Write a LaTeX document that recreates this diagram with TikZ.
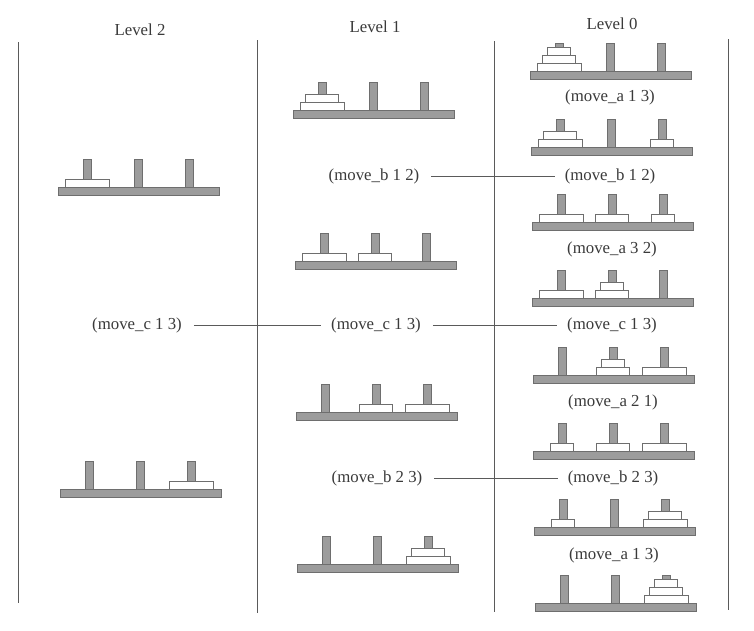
\documentclass[tikz,border=0pt]{standalone}
\usepackage{fontspec}
\setmainfont{Liberation Serif}
\definecolor{txt}{HTML}{3A3A3A}
\definecolor{pegfill}{HTML}{9C9C9C}
\definecolor{pegline}{HTML}{6E6E6E}
\definecolor{rule}{HTML}{5A5A5A}
\tikzset{
  lbl/.style={inner sep=0pt, text=txt, font=\fontsize{16.8}{20}\selectfont},
  link/.style={draw=rule, line width=0.7pt, shorten <=12pt, shorten >=10pt},
  divider/.style={draw=rule, line width=0.8pt},
  woodpart/.style={fill=pegfill, draw=pegline, line width=0.5pt},
  diskpart/.style={fill=white, draw=pegline, line width=0.6pt}
}
\newcommand\hanoitower[3]{%
  \begin{scope}[shift={(#1,#2)}]
    \draw[woodpart] (0,0) rectangle (161,8);
    \foreach \pp in {1,2,3}{
      \pgfmathsetmacro\pcx{29+51*(\pp-1)}
      \draw[woodpart] (\pcx-4,-28) rectangle (\pcx+4,0);
    }
    \foreach \p/\w/\l in {#3}{
      \pgfmathsetmacro\cx{29+51*(\p-1)}
      \draw[diskpart] (\cx-\w/2,-8*\l) rectangle (\cx+\w/2,-8*\l+8);
    }
  \end{scope}}
\begin{document}
\begin{tikzpicture}[x=1pt,y=-1pt]
\useasboundingbox (0,0) rectangle (754,630);
% dividers
\coordinate (v1t) at (18,42);  \coordinate (v1b) at (18,603);
\coordinate (v2t) at (257,40); \coordinate (v2b) at (257,613);
\coordinate (v3t) at (494,41); \coordinate (v3b) at (494,612);
\coordinate (v4t) at (728,39); \coordinate (v4b) at (728,610);
\draw[divider] (v1t) -- (v1b);
\draw[divider] (v2t) -- (v2b);
\draw[divider] (v3t) -- (v3b);
\draw[divider] (v4t) -- (v4b);
% headers
\node[lbl] (h2) at (140,30) {Level 2};
\node[lbl] (h1) at (375,27) {Level 1};
\node[lbl] (h0) at (612,24) {Level 0};
% Level 2
\hanoitower{58}{187}{1/44/1}
\node[lbl] (l2c) at (137,325) {(move\_c 1 3)};
\hanoitower{60}{489}{3/44/1}
% Level 1
\hanoitower{293}{110}{1/44/1,1/33/2}
\node[lbl] (l1b12) at (374,176.5) {(move\_b 1 2)};
\hanoitower{295}{261}{1/44/1,2/33/1}
\node[lbl] (l1c) at (376,325) {(move\_c 1 3)};
\hanoitower{296}{412}{2/33/1,3/44/1}
\node[lbl] (l1b23) at (377,478) {(move\_b 2 3)};
\hanoitower{297}{564}{3/44/1,3/33/2}
% Level 0
\hanoitower{530}{71}{1/44/1,1/33/2,1/23/3}
\node[lbl] (l0a13a) at (610,97) {(move\_a 1 3)};
\hanoitower{531}{147}{1/44/1,1/33/2,3/23/1}
\node[lbl] (l0b12) at (610,176.5) {(move\_b 1 2)};
\hanoitower{532}{222}{1/44/1,2/33/1,3/23/1}
\node[lbl] (l0a32) at (612,249) {(move\_a 3 2)};
\hanoitower{532}{298}{1/44/1,2/33/1,2/23/2}
\node[lbl] (l0c) at (612,325) {(move\_c 1 3)};
\hanoitower{533}{375}{2/33/1,2/23/2,3/44/1}
\node[lbl] (l0a21) at (613,402) {(move\_a 2 1)};
\hanoitower{533}{451}{1/23/1,2/33/1,3/44/1}
\node[lbl] (l0b23) at (613,478) {(move\_b 2 3)};
\hanoitower{534}{527}{1/23/1,3/44/1,3/33/2}
\node[lbl] (l0a13b) at (614,555) {(move\_a 1 3)};
\hanoitower{535}{603}{3/44/1,3/33/2,3/23/3}
% connectors
\draw[link] (l2c) -- (l1c);
\draw[link] (l1c) -- (l0c);
\draw[link] (l1b12) -- (l0b12);
\draw[link] (l1b23) -- (l0b23);
\end{tikzpicture}
\end{document}
